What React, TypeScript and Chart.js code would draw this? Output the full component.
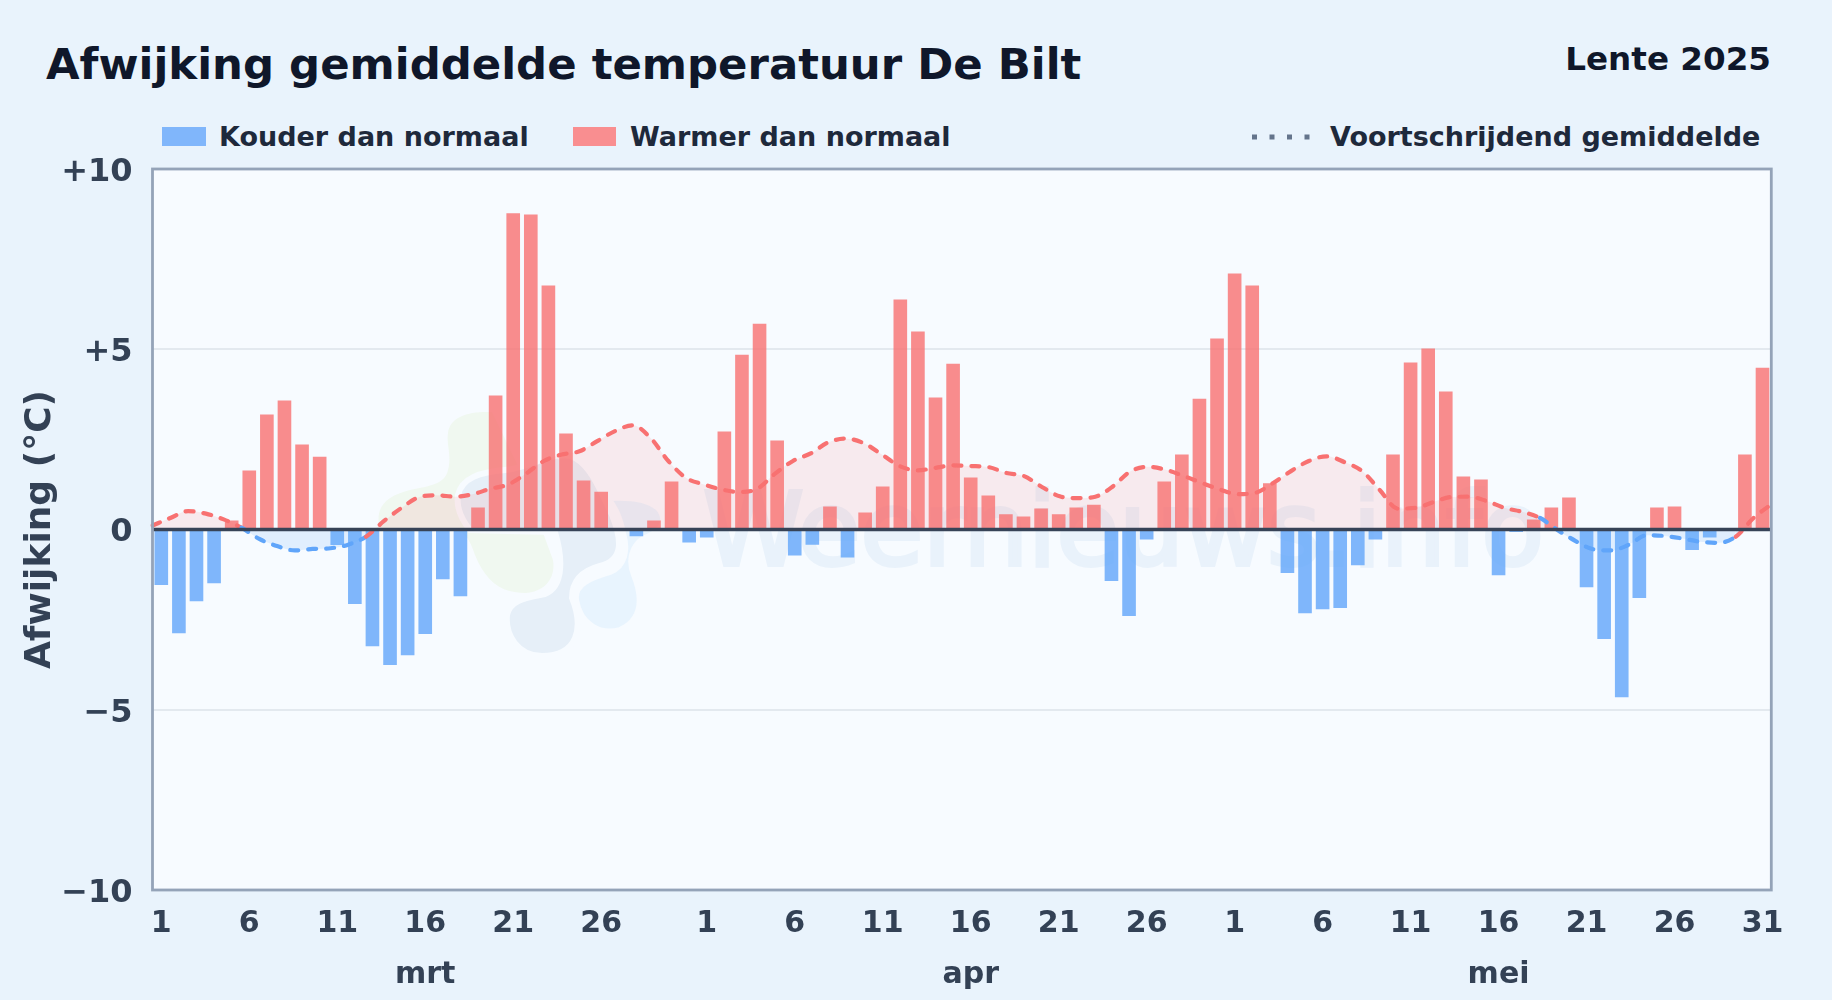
import React, { useEffect, useRef } from "react";
import { Chart, registerables } from "chart.js";

Chart.register(...registerables);

const FONT = "'DejaVu Sans'";
const monthLengths = [31, 30, 31];
const monthNames = ["mrt", "apr", "mei"];
const hiddenDayLabels = ["0-31"];
const yTickValues = [-10, -5, 0, 5, 10];
const yTickLabels = ["\u221210", "\u22125", "0", "+5", "+10"];

const anomalies = [
  -1.54, -2.88, -1.99, -1.49, 0.25, 1.64, 3.19, 3.58, 2.36, 2.02, -0.43, -2.07, -3.24, -3.76, -3.49, -2.9,
  -1.38, -1.85, 0.61, 3.72, 8.77, 8.74, 6.77, 2.66, 1.36, 1.05, 0, -0.19, 0.25, 1.33, -0.36,
  -0.22, 2.72, 4.85, 5.71, 2.47, -0.72, -0.42, 0.64, -0.78, 0.47, 1.19, 6.38, 5.49, 3.66, 4.6,
  1.44, 0.94, 0.42, 0.36, 0.58, 0.42, 0.61, 0.69, -1.43, -2.4, -0.28, 1.33, 2.08, 3.63, 5.3,
  7.1, 6.77, 1.28, -1.21, -2.32, -2.21, -2.18, -0.99, -0.28, 2.08, 4.63, 5.02, 3.83, 1.47, 1.39,
  -1.27, -0.07, 0.28, 0.61, 0.89, -1.6, -3.04, -4.65, -1.9, 0.61, 0.64, -0.57, -0.22, 0, 2.08, 4.49,
];

const movingAverage = [
  0.11, 0.32, 0.51, 0.44, 0.28, 0.05, -0.26, -0.46, -0.58, -0.54, -0.52, -0.42, -0.2, 0.23, 0.6, 0.9,
  0.95, 0.91, 0.98, 1.13, 1.25, 1.55, 1.9, 2.08, 2.17, 2.45, 2.73, 2.89, 2.54, 1.9, 1.43,
  1.25, 1.11, 1.04, 1.13, 1.55, 1.9, 2.11, 2.42, 2.52, 2.39, 2.08, 1.76, 1.64, 1.71, 1.78,
  1.76, 1.73, 1.57, 1.48, 1.18, 0.92, 0.87, 0.91, 1.2, 1.62, 1.74, 1.65, 1.48, 1.29, 1.11,
  0.98, 1.02, 1.29, 1.62, 1.9, 2.03, 1.87, 1.62, 1.09, 0.58, 0.6, 0.76, 0.9, 0.91, 0.79,
  0.6, 0.49, 0.32, -0.02, -0.32, -0.55, -0.58, -0.42, -0.16, -0.18, -0.25, -0.34, -0.37, -0.2, 0.32, 0.7,
];

const colderValues = anomalies.map((v) => (v < 0 ? v : null));
const warmerValues = anomalies.map((v) => (v > 0 ? v : null));

const categories: string[] = [];
monthLengths.forEach((len, m) => {
  for (let d = 1; d <= len; d++) categories.push(`${m}-${d}`);
});

function tickFor(index: number) {
  const [m, d] = categories[index].split("-").map(Number);
  if ((d - 1) % 5 !== 0 || hiddenDayLabels.includes(categories[index])) return "";
  return d === 16 ? [String(d), monthNames[m]] : String(d);
}

const RED = "#f87171";
const BLUE = "#60a5fa";

const framePlugin = {
  id: "frame",
  afterDatasetsDraw(chart: any) {
    const { ctx, chartArea: a, scales } = chart;
    const z = scales.y.getPixelForValue(0);
    ctx.save();
    ctx.strokeStyle = "#374357";
    ctx.lineWidth = 3.6;
    ctx.beginPath();
    ctx.moveTo(a.left, z);
    ctx.lineTo(a.right, z);
    ctx.stroke();
    ctx.strokeStyle = "#94a3b8";
    ctx.lineWidth = 2.8;
    ctx.strokeRect(a.left, a.top, a.right - a.left, a.bottom - a.top);
    ctx.restore();
  },
};

export default function App() {
  const ref = useRef<HTMLCanvasElement>(null);
  useEffect(() => {
    const chart = new Chart(ref.current as HTMLCanvasElement, {
      type: "bar",
      data: {
        labels: categories,
        datasets: [
          {
            type: "line",
            label: "Voortschrijdend gemiddelde",
            data: movingAverage,
            xAxisID: "xLine",
            order: 0,
            borderColor: RED,
            borderWidth: 4.2,
            borderDash: [8, 10],
            borderCapStyle: "round",
            cubicInterpolationMode: "monotone",
            pointRadius: 0,
            fill: { target: "origin", above: "rgba(248,113,113,0.12)", below: "rgba(96,165,250,0.15)" },
            segment: {
              borderColor: (c: any) => (c.p1.parsed.y < 0 ? BLUE : RED),
            },
          } as any,
          {
            label: "Kouder dan normaal",
            data: colderValues,
            order: 1,
            grouped: false,
            backgroundColor: "rgba(96,165,250,0.8)",
            barPercentage: 0.775,
            categoryPercentage: 1,
          } as any,
          {
            label: "Warmer dan normaal",
            data: warmerValues,
            order: 1,
            grouped: false,
            backgroundColor: "rgba(248,113,113,0.8)",
            barPercentage: 0.775,
            categoryPercentage: 1,
          } as any,
        ],
      },
      plugins: [framePlugin],
      options: {
        responsive: false,
        animation: false,
        layout: { padding: { top: 169, right: 60.7, left: 0, bottom: 0 } },
        plugins: { legend: { display: false }, tooltip: { enabled: false } },
        scales: {
          x: {
            type: "category",
            offset: true,
            grid: { display: false },
            border: { display: false },
            afterFit: (s: any) => {
              s.height = 110;
            },
            ticks: {
              autoSkip: false,
              maxRotation: 0,
              padding: 1,
              color: "#334155",
              font: { family: FONT, size: 30, weight: "bold", lineHeight: 1.7 },
              callback: (_v: any, i: number) => tickFor(i),
            },
          },
          xLine: {
            type: "category",
            labels: categories,
            offset: false,
            display: false,
          },
          y: {
            min: -10,
            max: 10,
            afterFit: (s: any) => {
              s.width = 152.5;
            },
            afterBuildTicks: (s: any) => {
              s.ticks = yTickValues.map((value) => ({ value }));
            },
            grid: {
              color: (c: any) => (Math.abs(c.tick.value) === 5 ? "#e3e9ef" : "transparent"),
              lineWidth: 2,
              drawTicks: false,
            },
            border: { display: false },
            title: {
              display: true,
              text: "Afwijking (\u00b0C)",
              color: "#334155",
              font: { family: FONT, size: 36, weight: "bold" },
              padding: { top: 19, bottom: 0 },
            },
            ticks: {
              padding: 20,
              labelOffset: 3.5,
              color: "#334155",
              font: { family: FONT, size: 32, weight: "bold" },
              callback: (v: any) => yTickLabels[yTickValues.indexOf(Number(v))],
            },
          },
        },
      } as any,
    });
    return () => chart.destroy();
  }, []);

  const text = { fontFamily: FONT, fontWeight: 700 } as const;
  return (
    <div style={{ position: "relative", width: 1832, height: 1000, background: "#e9f3fc", overflow: "hidden" }}>
      <style>{`html,body{margin:0;padding:0}`}</style>
      <svg width={1832} height={1000} style={{ position: "absolute", left: 0, top: 0 }}>
        <rect x={152.5} y={169} width={1618.8} height={721} fill="#f7fbff" />
        <path
          d="M448 433C450 416 470 411 492 412L520 470L553 560C556 578 545 592 525 593C500 593 485 580 475 555C470 540 465 530 450 530L380 530C375 510 382 497 410 490C430 486 445 484 448 470C452 455 446 445 448 433Z"
          fill="#f0f8f0"
        />
        <path
          d="M623 533C618 510 612 505 608 498C625 497 650 498 660 510C668 522 660 532 645 538C632 545 628 560 634 575C644 600 642 620 620 630C600 636 580 624 576 600C574 584 590 578 610 572C625 566 628 550 623 533Z"
          fill="#e8f4fe"
          stroke="#f7fbff"
          strokeWidth={6}
        />
        <path
          d="M458 495C462 478 480 472 505 470C530 468 558 448 575 458C592 468 600 490 612 515C622 540 624 560 600 566C585 570 572 578 572 598C584 628 578 656 542 656C518 656 505 635 507 615C510 600 525 598 545 594C565 586 562 555 555 532L470 530C462 520 456 508 458 495Z"
          fill="#e6eff8"
          stroke="#f7fbff"
          strokeWidth={6}
        />
        <text
          x={703}
          y={565}
          textLength={841}
          lengthAdjust="spacingAndGlyphs"
          fontFamily={FONT}
          fontSize={101}
          fill="#e9f2fb"
          stroke="#e9f2fb"
          strokeWidth={4}
        >
          Weernieuws.info
        </text>
        <text x={46} y={78.5} fontSize={43.4} fill="#0f172a" style={text}>
          Afwijking gemiddelde temperatuur De Bilt
        </text>
        <text x={1771} y={69.5} fontSize={32.6} fill="#0f172a" textAnchor="end" style={text}>
          Lente 2025
        </text>
        <rect x={162} y={127} width={44} height={19} fill="#80b6fb" />
        <text x={219} y={146.3} fontSize={27} fill="#1e293b" style={text}>
          Kouder dan normaal
        </text>
        <rect x={573} y={127} width={43} height={19} fill="#f98e90" />
        <text x={630} y={146.3} fontSize={27} fill="#1e293b" style={text}>
          Warmer dan normaal
        </text>
        <line x1={1252} x2={1310} y1={137} y2={137} stroke="#64748b" strokeWidth={5} strokeDasharray="5 12.5" />
        <text x={1330} y={146.3} fontSize={27} fill="#1e293b" style={text}>
          Voortschrijdend gemiddelde
        </text>
      </svg>
      <canvas ref={ref} width={1832} height={1000} style={{ position: "absolute", left: 0, top: 0 }} />
    </div>
  );
}
